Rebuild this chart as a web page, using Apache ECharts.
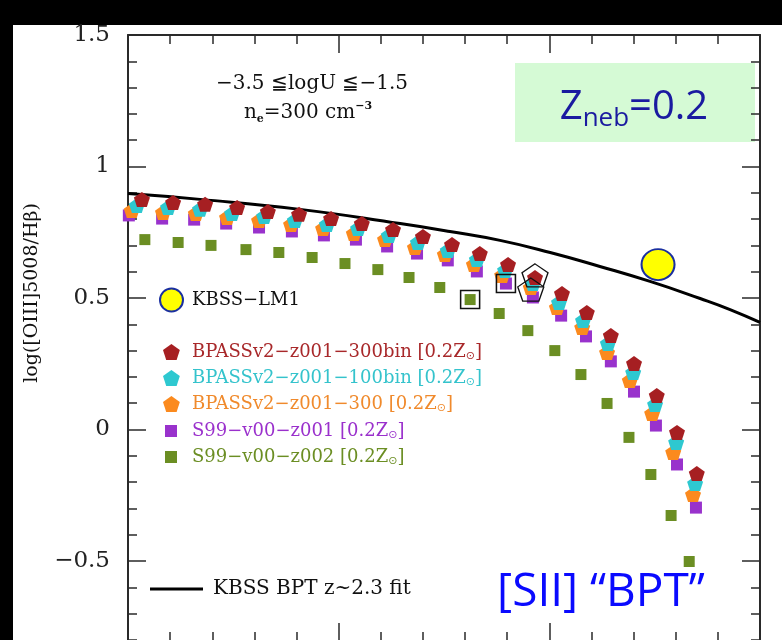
<!DOCTYPE html>
<html><head><meta charset="utf-8">
<script src="https://cdn.jsdelivr.net/npm/echarts@6/dist/echarts.min.js"></script>
<style>html,body{margin:0;padding:0;background:#000;} #c{width:782px;height:640px;}</style>
</head><body><div id="c"></div>
<script>
// ---- data ----
const xTicks = [-1.5, -1.0, -0.5, 0];
const yTickLabels = {'1.5':'1.5','1':'1','0.5':'0.5','0':'0','-0.5':'\u22120.5'};

const fitX = [-1.5,-1.329,-1.092,-0.854,-0.736,-0.617,-0.498,-0.380,-0.261,-0.142,-0.071,0];
const fitY = [0.897,0.875,0.837,0.783,0.753,0.719,0.673,0.620,0.563,0.498,0.456,0.407];

const redX = [-1.467,-1.393,-1.317,-1.241,-1.168,-1.094,-1.018,-0.945,-0.871,-0.800,-0.731,-0.665,-0.598,-0.534,-0.470,-0.411,-0.354,-0.299,-0.245,-0.197,-0.150];
const redY = [0.875,0.863,0.856,0.844,0.829,0.818,0.802,0.783,0.760,0.734,0.703,0.669,0.627,0.578,0.517,0.445,0.357,0.251,0.129,-0.011,-0.167];

const cyanX = [-1.479,-1.405,-1.329,-1.253,-1.177,-1.104,-1.028,-0.954,-0.881,-0.812,-0.741,-0.672,-0.605,-0.539,-0.477,-0.420,-0.361,-0.301,-0.249,-0.199,-0.154];
const cyanY = [0.852,0.844,0.837,0.821,0.810,0.795,0.779,0.764,0.738,0.711,0.681,0.646,0.605,0.555,0.483,0.414,0.327,0.217,0.095,-0.049,-0.205];

const orangeX = [-1.491,-1.417,-1.339,-1.265,-1.189,-1.113,-1.037,-0.964,-0.890,-0.819,-0.748,-0.679,-0.612,-0.544,-0.482,-0.422,-0.363,-0.309,-0.256,-0.206,-0.159];
const orangeY = [0.833,0.825,0.821,0.806,0.795,0.779,0.764,0.745,0.722,0.692,0.665,0.627,0.586,0.540,0.464,0.388,0.293,0.186,0.061,-0.087,-0.247];

const purpleX = [-1.498,-1.419,-1.343,-1.267,-1.189,-1.111,-1.035,-0.959,-0.885,-0.814,-0.741,-0.672,-0.603,-0.539,-0.472,-0.413,-0.354,-0.299,-0.247,-0.197,-0.152];
const purpleY = [0.814,0.802,0.798,0.783,0.768,0.753,0.738,0.722,0.696,0.669,0.643,0.601,0.555,0.502,0.433,0.354,0.259,0.144,0.015,-0.133,-0.297];

const greenX = [-1.460,-1.381,-1.303,-1.220,-1.142,-1.063,-0.985,-0.907,-0.833,-0.760,-0.688,-0.619,-0.551,-0.487,-0.425,-0.363,-0.311,-0.259,-0.211,-0.168];
const greenY = [0.722,0.711,0.700,0.684,0.673,0.654,0.631,0.608,0.578,0.540,0.494,0.441,0.376,0.300,0.209,0.099,-0.030,-0.171,-0.327,-0.502];

const lm1X = [-0.242];
const lm1Y = [0.627];

const boxSqX = [-0.688,-0.603];
const boxSqY = [0.494,0.555];
const boxPentX = [-0.534,-0.544];
const boxPentY = [0.586,0.532];

const names = {
  lm1: 'KBSS\u2212LM1',
  red: 'BPASSv2\u2212z001\u2212300bin [0.2Z\u2299]',
  cyan: 'BPASSv2\u2212z001\u2212100bin [0.2Z\u2299]',
  orange: 'BPASSv2\u2212z001\u2212300 [0.2Z\u2299]',
  purple: 'S99\u2212v00\u2212z001 [0.2Z\u2299]',
  green: 'S99\u2212v00\u2212z002 [0.2Z\u2299]',
  fit: 'KBSS BPT z~2.3 fit'
};

// ---- styling ----
const SERIF = 'DejaVu Serif';
const C = {red:'#a61f22', cyan:'#2ec8d0', orange:'#fb8a1e', purple:'#9932cc', green:'#6b8e23'};
const TXT = {red:'#a8282a', cyan:'#34c3cc', orange:'#f08a2c', purple:'#9a30cc', green:'#6b8e23', black:'#111'};
const PENT = 'path://M0,-10 L9.511,-3.09 L5.878,8.09 L-5.878,8.09 L-9.511,-3.09 Z';

function pairs(xs, ys){ return xs.map((x,i)=>[x, ys[i]]); }

function legendFor(name, color, left, cy, w, h, gap, icon, fs){
  const lh = 20;
  fs = fs || 18;
  const top = cy - Math.max(h, lh)/2;
  const d = {name: name};
  if (icon) d.icon = icon;
  return {
    data:[d], left:left, top:top, orient:'vertical', padding:0,
    itemWidth:w, itemHeight:h, selectedMode:false,
    formatter: function(n){
      const i = n.indexOf('\u2299');
      if (i < 0) return '{m|' + n + '}';
      return '{m|' + n.slice(0,i) + '}{s|\u2299}{m|' + n.slice(i+1) + '}';
    },
    textStyle:{
      color: color, fontFamily: SERIF, fontSize: fs, lineHeight: lh, padding:[0,0,0,gap-5],
      rich:{
        m:{color: color, fontFamily: SERIF, fontSize: fs, lineHeight: lh},
        s:{color: color, fontFamily: 'DejaVu Sans', fontSize: 11, lineHeight: 8, verticalAlign:'bottom'}
      }
    }
  };
}

const axisCommon = {
  min:-1.5, max:0, interval:0.5, type:'value',
  axisLine:{show:true, onZero:false, lineStyle:{color:'#2a2a2a', width:2}},
  axisTick:{show:true, inside:true, length:18, lineStyle:{color:'#2a2a2a', width:1.5}},
  minorTick:{show:true, splitNumber:5, length:9, lineStyle:{color:'#2a2a2a', width:1.5}},
  axisLabel:{show:false}, splitLine:{show:false}
};

const option = {
  backgroundColor:'#000',
  animation:false,
  grid:{left:128, top:35, width:632, height:657.5, outerBoundsMode:'none', containLabel:false},
  xAxis:[
    Object.assign({}, axisCommon, {position:'top'}),
    Object.assign({}, axisCommon, {position:'bottom', offset:-51.5})
  ],
  yAxis:[
    Object.assign({}, axisCommon, {min:-1, max:1.5, interval:0.5, position:'left',
      axisLabel:{show:true, margin:18, color:'#222', fontFamily:SERIF, fontSize:23,
        formatter:function(v){ const k = String(Math.round(v*10)/10); return yTickLabels[k] !== undefined ? yTickLabels[k] : ''; }}}),
    Object.assign({}, axisCommon, {min:-1, max:1.5, interval:0.5, position:'right'})
  ],
  legend:[
    legendFor(names.lm1, TXT.black, 159, 299, 25, 23, 8),
    legendFor(names.red, TXT.red, 163, 352, 17, 16, 12),
    legendFor(names.cyan, TXT.cyan, 163, 378, 17, 16, 12),
    legendFor(names.orange, TXT.orange, 163, 404, 17, 16, 12),
    legendFor(names.purple, TXT.purple, 165, 431, 12, 12, 15),
    legendFor(names.green, TXT.green, 165, 457, 12, 12, 15),
    legendFor(names.fit, TXT.black, 150, 589, 53, 3, 10, 'rect', 20)
  ],
  series:[
    {name:names.fit, type:'line', data:pairs(fitX, fitY), smooth:true, symbol:'none',
      lineStyle:{color:'#000', width:3}, itemStyle:{color:'#000'}, z:1},
    {name:names.purple, type:'scatter', data:pairs(purpleX, purpleY), symbol:'rect', symbolSize:12,
      itemStyle:{color:C.purple, opacity:1}, z:2},
    {name:names.orange, type:'scatter', data:pairs(orangeX, orangeY), symbol:PENT, symbolSize:[16,15],
      itemStyle:{color:C.orange, opacity:1}, z:3},
    {name:names.cyan, type:'scatter', data:pairs(cyanX, cyanY), symbol:PENT, symbolSize:[16,15],
      itemStyle:{color:C.cyan, opacity:1}, z:4},
    {name:names.red, type:'scatter', data:pairs(redX, redY), symbol:PENT, symbolSize:[16,15],
      itemStyle:{color:C.red, opacity:1}, z:5},
    {name:names.green, type:'scatter', data:pairs(greenX, greenY), symbol:'rect', symbolSize:11,
      itemStyle:{color:C.green, opacity:1}, z:5},
    {name:'boxSq', type:'scatter', data:pairs(boxSqX, boxSqY), symbol:'rect', symbolSize:[19,18],
      itemStyle:{color:'rgba(0,0,0,0)', borderColor:'#111', borderWidth:1.5, opacity:1}, z:6},
    {name:'boxPent', type:'scatter', data:pairs(boxPentX, boxPentY), symbol:PENT, symbolSize:[26,23],
      itemStyle:{color:'rgba(0,0,0,0)', borderColor:'#111', borderWidth:1.3, opacity:1}, z:6},
    {name:names.lm1, type:'scatter', data:pairs(lm1X, lm1Y), symbol:'circle', symbolSize:[33,31],
      itemStyle:{color:'#ffff00', borderColor:'#1a2fa0', borderWidth:2, opacity:1}, z:7}
  ],
  graphic:[
    {type:'rect', shape:{x:13, y:25, width:769, height:615}, style:{fill:'#fff'}, z:-10, silent:true},
    {type:'rect', shape:{x:515, y:63, width:240, height:79}, style:{fill:'#d5fad5'}, z:-5, silent:true},
    {type:'text', x:312, y:84, z:10, style:{text:'\u22123.5 \u2266logU \u2266\u22121.5', fill:'#111',
      font:'20px "DejaVu Serif"', textAlign:'center', textVerticalAlign:'middle'}},
    {type:'text', x:308, y:113, z:10, style:{text:'{m|n}{s|e}{m|=300 cm}{p|\u22123}', textAlign:'center', textVerticalAlign:'middle',
      rich:{m:{fontFamily:SERIF, fontSize:20, lineHeight:24, fill:'#111'},
            s:{fontFamily:SERIF, fontSize:11, fontWeight:'bold', lineHeight:10, verticalAlign:'bottom', fill:'#111'},
            p:{fontFamily:SERIF, fontSize:11, fontWeight:'bold', lineHeight:14, verticalAlign:'top', fill:'#111'}}}},
    {type:'text', x:634, y:108, z:10, style:{text:'{a|Z}{b|neb}{a|=0.2}', textAlign:'center', textVerticalAlign:'middle',
      rich:{a:{fontFamily:'Open Sans', fontSize:40, lineHeight:48, fill:'#1a1aa0'},
            b:{fontFamily:'Open Sans', fontSize:26, lineHeight:22, verticalAlign:'bottom', fill:'#1a1aa0'}}}},
    {type:'text', x:601, y:593, z:10, style:{text:'[SII] \u201cBPT\u201d', fill:'#0a0aff',
      font:'46px "Open Sans"', textAlign:'center', textVerticalAlign:'middle'}},
    {type:'text', x:32, y:293, rotation:Math.PI/2, z:10, style:{text:'log([OIII]5008/H\u03b2)', fill:'#111',
      font:'19px "DejaVu Serif"', textAlign:'center', textVerticalAlign:'middle'}}
  ]
};

const chart = echarts.init(document.getElementById('c'), null, {renderer:'canvas'});
chart.setOption(option);
</script>
</body></html>
